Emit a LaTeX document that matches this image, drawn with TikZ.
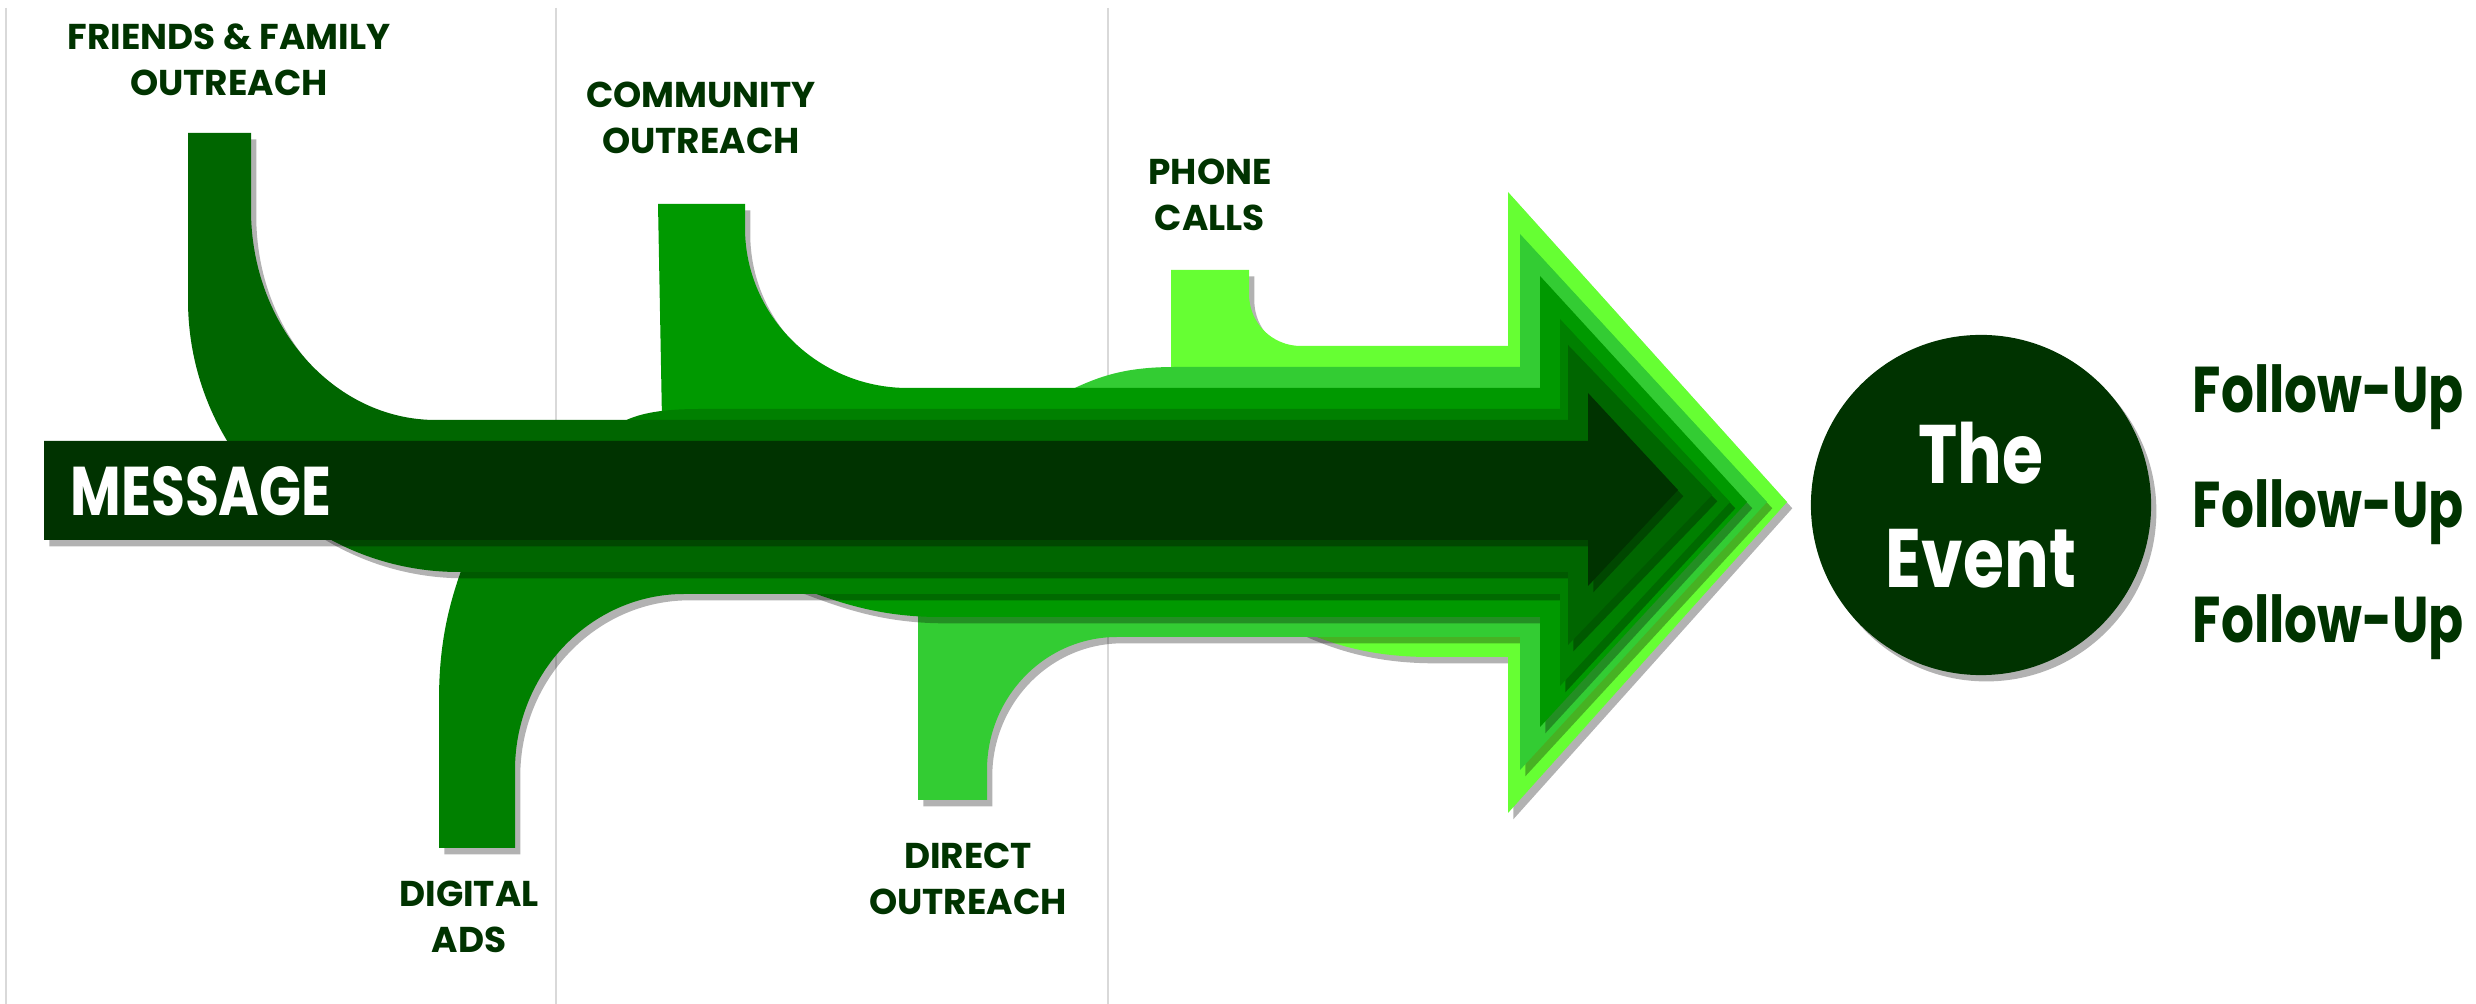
\documentclass[tikz,border=0pt]{standalone}
\usepackage{fontspec}
\setmainfont{Poppins}
\newfontfamily\narrowfont{Poppins}[FakeStretch=0.8]
\usepackage{tikz}
\usetikzlibrary{shadows, calc}
\usepackage{xcolor}
\definecolor{phonegreen}{HTML}{66FF33}
\definecolor{directgreen}{HTML}{33CC33}
\definecolor{communitygreen}{HTML}{009900}
\definecolor{digitalgreen}{HTML}{008000}
\definecolor{friendsgreen}{HTML}{006600}
\definecolor{messagegreen}{HTML}{003300}
\definecolor{sepgrey}{HTML}{D9D9D9}

\begin{document}
\begin{tikzpicture}[
        x=0.01cm, y=-0.01cm,
        band/.style={drop shadow={shadow xshift=1.5pt, shadow yshift=-1.8pt, opacity=0.3, fill=black}},
        sepline/.style={draw=sepgrey, line width=0.6pt},
        lbl/.style={align=center, inner sep=0pt, text=messagegreen, font=\fontsize{10.2pt}{13.1pt}\selectfont\bfseries},
        follow/.style={anchor=base west, inner sep=0pt, text=messagegreen, font=\narrowfont\fontsize{18.4pt}{22pt}\selectfont\bfseries}
    ]
        \useasboundingbox (0,0) rectangle (2476,1004);

        \draw[sepline] (6,8) -- (6,1004);
        \draw[sepline] (556,8) -- (556,1004);
        \draw[sepline] (1108,8) -- (1108,1004);

        \fill[phonegreen, band] (1171,270) -- (1249,270) -- (1249,294)
            .. controls (1249,323) and (1272,346) .. (1301,346) -- (1508,346) -- (1508,192)
            -- (1787,502) -- (1508,813) -- (1508,657) -- (1430,657)
            .. controls (1380,657) and (1340,648) .. (1300,630) -- (1171,600) -- cycle;
        \fill[directgreen, band] (918,800) -- (918,420) -- (1060,395)
            .. controls (1095,378) and (1120,367) .. (1175,367) -- (1520,367) -- (1520,234)
            -- (1767,502) -- (1520,770) -- (1520,637) -- (1117,637)
            .. controls (1045,637) and (987,697) .. (987,770) -- (987,800) -- cycle;
        \fill[communitygreen, band] (658,204) -- (745,204) -- (745,228)
            .. controls (745,316) and (818,388) .. (908,388) -- (1540,388) -- (1540,276)
            -- (1747,502) -- (1540,727) -- (1540,617) -- (940,617)
            .. controls (880,617) and (840,603) .. (800,588) -- (662,560) -- (662,420) -- cycle;
        \fill[digitalgreen, band] (439,848) -- (439,700)
            .. controls (439,640) and (450,600) .. (465,560) -- (465,440) -- (600,440)
            .. controls (620,416) and (650,409) .. (700,409) -- (1560,409) -- (1560,319)
            -- (1730,502) -- (1560,686) -- (1560,594) -- (684,594)
            .. controls (591,594) and (515,673) .. (515,770) -- (515,848) -- cycle;
        \fill[friendsgreen, band] (188,133) -- (251,133) -- (251,210)
            .. controls (251,326) and (334,420) .. (436,420) -- (1568,420) -- (1568,345)
            -- (1712,495) -- (1568,645) -- (1568,572) -- (459,572)
            .. controls (309,572) and (188,450) .. (188,300) -- cycle;
        \fill[messagegreen, band] (44,441) -- (1588,441) -- (1588,393) -- (1678,490)
            -- (1588,586) -- (1588,540) -- (44,540) -- cycle;

        \node[anchor=west, inner sep=0pt, text=white, font=\narrowfont\fontsize{19.6pt}{22pt}\selectfont\bfseries] (message) at (70,491) {MESSAGE};

        \node[lbl] (friends) at (229,60) {FRIENDS \& FAMILY\\OUTREACH};
        \node[lbl] (community) at (701,118) {COMMUNITY\\OUTREACH};
        \node[lbl] (phone) at (1210,195) {PHONE\\CALLS};
        \node[lbl] (digital) at (469,917) {DIGITAL\\ADS};
        \node[lbl] (direct) at (968,879) {DIRECT\\OUTREACH};

        \node[circle, fill=messagegreen, band, minimum size=3.4cm, inner sep=0pt, text=white, align=center,
            font=\narrowfont\fontsize{23.6pt}{29.6pt}\selectfont\bfseries] (event) at (1981,505) {The\\Event};

        \node[follow] (fu1) at (2192,413) {Follow-Up};
        \node[follow] (fu2) at ($(fu1.base west)+(0,115)$) {Follow-Up};
        \node[follow] (fu3) at ($(fu2.base west)+(0,115)$) {Follow-Up};
    \end{tikzpicture}
\end{document}
